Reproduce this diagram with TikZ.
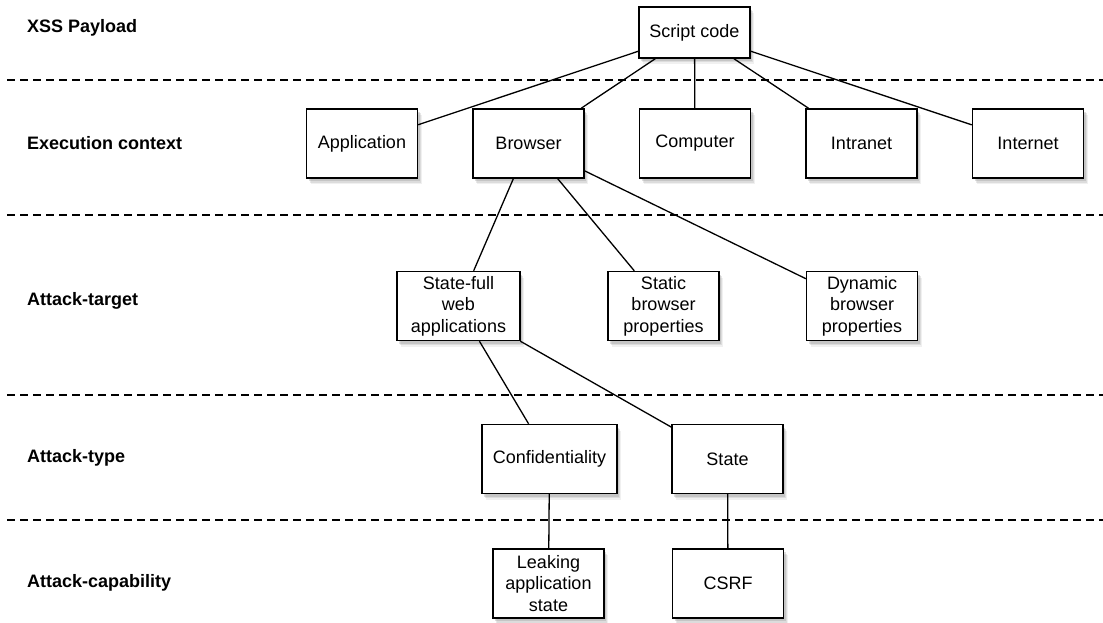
\documentclass[tikz,border=0pt]{standalone}
\usepackage{fontspec}
\setmainfont{Liberation Sans}
\usetikzlibrary{shadows}
\begin{document}
\begin{tikzpicture}[x=1pt,y=-1pt,
  box/.style={draw,line width=1.4pt,fill=white,minimum width=111pt,minimum height=69pt,
    inner sep=0pt,align=center,font=\fontsize{18}{21.5}\selectfont,
    drop shadow={shadow xshift=4pt,shadow yshift=-6pt,opacity=0.12},
    drop shadow={shadow xshift=3pt,shadow yshift=-4.5pt,opacity=0.18},
    drop shadow={shadow xshift=2pt,shadow yshift=-3pt,opacity=0.25}},
  layer/.style={anchor=west,inner sep=0pt,font=\fontsize{18}{21}\selectfont\bfseries},
  sep/.style={line width=1.2pt,dash pattern=on 8pt off 5pt},
  link/.style={line width=1.3pt}]
\useasboundingbox (0,0) rectangle (1103,623);
% layer names
\node[layer] (lpayload) at (27,28) {XSS Payload};
\node[layer] (lcontext) at (27,143) {Execution context};
\node[layer] (ltarget) at (27,301) {Attack-target};
\node[layer] (ltype) at (27,458) {Attack-type};
\node[layer] (lcap) at (27,583) {Attack-capability};
% separators
\draw[sep] (7,80) -- (1103,80);
\draw[sep] (7,215) -- (1103,215);
\draw[sep] (7,395) -- (1103,395);
\draw[sep] (7,520) -- (1103,520);
% payload
\node[box,minimum height=51pt] (script) at (694.5,32.5) {Script code};
% execution context
\node[box] (app) at (362,143.5) {Application};
\node[box] (browser) at (528.5,143.5) {Browser};
\node[box] (computer) at (695,143.5) {Computer};
\node[box] (intranet) at (861.5,143.5) {Intranet};
\node[box] (internet) at (1028,143.5) {Internet};
% attack target
\node[box,minimum width=123pt] (webapp) at (458.5,306) {State-full\\web\\applications};
\node[box] (static) at (663.5,306) {Static\\browser\\properties};
\node[box] (dynamic) at (862,306) {Dynamic\\browser\\properties};
% attack type
\node[box,minimum width=135pt] (confid) at (549.5,459) {Confidentiality};
\node[box] (state) at (727.5,459) {State};
% attack capability
\node[box] (leak) at (548.5,583.5) {Leaking\\application\\state};
\node[box] (csrf) at (728,583.5) {CSRF};
% links
\draw[link] (script) -- (app);
\draw[link] (script) -- (browser);
\draw[link] (script) -- (computer);
\draw[link] (script) -- (intranet);
\draw[link] (script) -- (internet);
\draw[link] (browser) -- (webapp);
\draw[link] (browser) -- (static);
\draw[link] (browser) -- (dynamic);
\draw[link] (webapp) -- (confid);
\draw[link] (webapp) -- (state);
\draw[link] (confid) -- (leak);
\draw[link] (state) -- (csrf);
\end{tikzpicture}
\end{document}
